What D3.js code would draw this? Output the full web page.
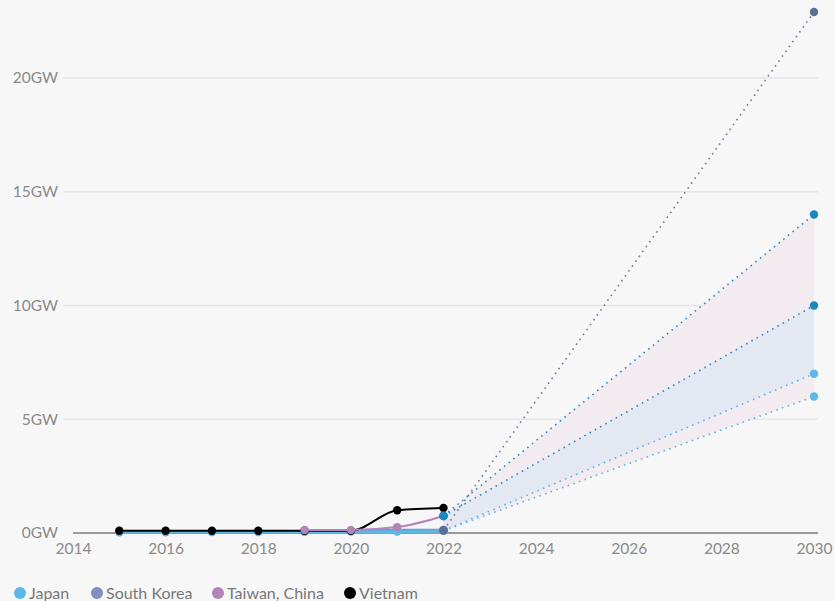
<!DOCTYPE html>
<html><head><meta charset="utf-8">
<script src="https://cdn.jsdelivr.net/npm/d3@7"></script>
<style>
html,body{margin:0;padding:0;background:#f7f7f7;}
svg{display:block;font-family:Lato,"Open Sans",sans-serif;}
</style></head>
<body>
<svg id="c" width="835" height="601"></svg>
<script>
const years = [2015, 2016, 2017, 2018, 2019, 2020, 2021, 2022];
const japan = [0.05, 0.05, 0.05, 0.05, 0.05, 0.06, 0.06, 0.1];
const southKorea = [0.03, 0.03, 0.04, 0.04, 0.07, 0.1, 0.12, 0.12];
const taiwanYears = [2019, 2020, 2021, 2022];
const taiwan = [0.13, 0.13, 0.26, 0.75];
const vietnam = [0.1, 0.1, 0.1, 0.1, 0.1, 0.1, 1.0, 1.1];
const targetYear = 2030;
const skTarget = 22.9;
const twTargets = [14, 10];
const jpTargets = [7, 6];
const yTicks = [0, 5, 10, 15, 20];
const xTicks = [2014, 2016, 2018, 2020, 2022, 2024, 2026, 2028, 2030];
const legendNames = ["Japan", "South Korea", "Taiwan, China", "Vietnam"];
const legendColors = ["#5bb8e8", "#7f90c0", "#b384b8", "#000000"];

const svg = d3.select("#c");
const x = d3.scaleLinear().domain([2014, 2030]).range([73, 814]);
const y = d3.scaleLinear().domain([0, 20]).range([533, 78]);

// grid
const grid = svg.append("g");
grid.selectAll("line").data(yTicks.slice(1)).join("line")
  .attr("x1", 63).attr("x2", 818)
  .attr("y1", d => y(d)).attr("y2", d => y(d))
  .attr("stroke", "#e6e6e6").attr("stroke-width", 1.5);

// y axis labels
const yAxis = d3.axisLeft(y).tickValues(yTicks).tickFormat(d => d + "GW").tickSize(0).tickPadding(5);
const ya = svg.append("g").attr("transform", "translate(63,0)").call(yAxis);
ya.select(".domain").remove();
ya.selectAll("text").attr("fill", "#8a8a8a").style("font-size", "15.5px").attr("font-family", "Lato, sans-serif");

// x axis
const xAxis = d3.axisBottom(x).tickValues(xTicks).tickFormat(d3.format("d")).tickSize(0).tickPadding(10);
const xa = svg.append("g").attr("transform", "translate(0,533)").call(xAxis);
xa.select(".domain").remove();
xa.selectAll("text").attr("fill", "#8a8a8a").style("font-size", "15.5px").attr("font-family", "Lato, sans-serif");

// baseline
svg.append("line").attr("x1", 73).attr("x2", 818).attr("y1", y(0)).attr("y2", y(0))
  .attr("stroke", "#9a9a9a").attr("stroke-width", 2);

const jp22 = japan[japan.length - 1];
const tw22 = taiwan[taiwan.length - 1];
const sk22 = southKorea[southKorea.length - 1];

// bands
const area = d3.line().x(d => x(d[0])).y(d => y(d[1]));
svg.append("path")
  .attr("d", area([[2022, tw22], [targetYear, twTargets[0]], [targetYear, jpTargets[1]], [2022, jp22]]) + "Z")
  .attr("fill", "#f2ecf1");
svg.append("path")
  .attr("d", area([[2022, tw22], [targetYear, twTargets[1]], [targetYear, jpTargets[0]], [2022, jp22]]) + "Z")
  .attr("fill", "#e3e8f2");

// dotted projection lines
const proj = [
  {from: sk22, to: skTarget, color: "#6d7c99", dot: "#5a7099"},
  {from: tw22, to: twTargets[0], color: "#2a8cc4", dot: "#1f87c0"},
  {from: tw22, to: twTargets[1], color: "#2a8cc4", dot: "#1f87c0"},
  {from: jp22, to: jpTargets[0], color: "#5bb8e8", dot: "#5bb8e8"},
  {from: jp22, to: jpTargets[1], color: "#5bb8e8", dot: "#5bb8e8"}
];
proj.forEach(p => {
  svg.append("path").attr("d", area([[2022, p.from], [targetYear, p.to]]))
    .attr("stroke", p.color).attr("stroke-width", 1.6).attr("fill", "none")
    .attr("stroke-dasharray", "1.6,4.4").attr("stroke-linecap", "butt");
});

// historic lines
const line = d3.line().curve(d3.curveMonotoneX).x(d => x(d[0])).y(d => y(d[1]));
const series = [
  {vals: years.map((yr, i) => [yr, southKorea[i]]), color: "#7f90c0", w: 3},
  {vals: years.map((yr, i) => [yr, japan[i]]), color: "#5bb8e8", w: 3},
  {vals: years.map((yr, i) => [yr, vietnam[i]]), color: "#000000", w: 2},
  {vals: taiwanYears.map((yr, i) => [yr, taiwan[i]]), color: "#b384b8", w: 2}
];
series.forEach(s => {
  svg.append("path").attr("d", line(s.vals)).attr("fill", "none")
    .attr("stroke", s.color).attr("stroke-width", s.w);
  svg.append("g").selectAll("circle").data(s.vals).join("circle")
    .attr("cx", d => x(d[0])).attr("cy", d => y(d[1])).attr("r", 4.2).attr("fill", s.color);
});

// projection markers
svg.append("circle").attr("cx", x(2022)).attr("cy", y(tw22)).attr("r", 4.5).attr("fill", "#1f87c0");
svg.append("circle").attr("cx", x(2022)).attr("cy", y(sk22)).attr("r", 4.5).attr("fill", "#5a7099");
proj.forEach(p => {
  svg.append("circle").attr("cx", x(targetYear)).attr("cy", y(p.to)).attr("r", 4.2).attr("fill", p.dot);
});

// legend
const legX = [20, 97, 218, 350];
const lg = svg.append("g");
legendNames.forEach((n, i) => {
  lg.append("circle").attr("cx", legX[i]).attr("cy", 593).attr("r", 6).attr("fill", legendColors[i]);
  lg.append("text").attr("x", legX[i] + 9).attr("y", 598.5).text(n)
    .attr("fill", "#777").style("font-size", "16px");
});
</script>
</body></html>
